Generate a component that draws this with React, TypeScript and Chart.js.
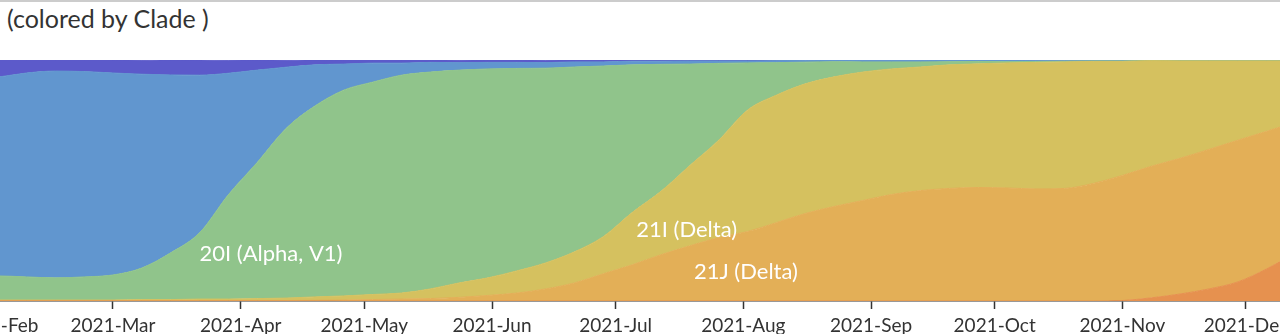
import React, { useEffect, useRef } from "react";
import { Chart, registerables } from "chart.js";

Chart.register(...registerables);

// Weekly pivots (frequency estimates, percent)
const weeks = [
  "2021-01-18", "2021-01-25", "2021-02-01", "2021-02-08", "2021-02-15", "2021-02-22",
  "2021-03-01", "2021-03-08", "2021-03-15", "2021-03-22", "2021-03-29", "2021-04-05",
  "2021-04-12", "2021-04-19", "2021-04-26", "2021-05-03", "2021-05-10", "2021-05-17",
  "2021-05-24", "2021-05-31", "2021-06-07", "2021-06-14", "2021-06-21", "2021-06-28",
  "2021-07-05", "2021-07-12", "2021-07-19", "2021-07-26", "2021-08-02", "2021-08-09",
  "2021-08-16", "2021-08-23", "2021-08-30", "2021-09-06", "2021-09-13", "2021-09-20",
  "2021-09-27", "2021-10-04", "2021-10-11", "2021-10-18", "2021-10-25", "2021-11-01",
  "2021-11-08", "2021-11-15", "2021-11-22", "2021-11-29", "2021-12-06", "2021-12-13",
  "2021-12-20",
];

const clade21K = [
  0, 0, 0, 0, 0, 0, 0, 0, 0, 0, 0, 0, 0, 0, 0, 0, 0, 0, 0, 0, 0, 0, 0, 0, 0, 0, 0, 0, 0, 0,
  0, 0, 0, 0, 0, 0, 0, 0, 0, 0, 0, 0.2, 1.3, 2.9, 5.0, 7.9, 13.3, 20.0, 27.1,
];

const clade21J = [
  0.2, 0.2, 0.2, 0.2, 0.2, 0.2, 0.2, 0.2, 0.2, 0.2, 0.2, 0.2, 0.2, 0.3, 0.4, 0.6, 0.8, 1.0,
  1.5, 2.3, 3.3, 5.0, 7.5, 11.3, 15.0, 19.2, 22.9, 26.3, 28.8, 32.5, 36.3, 39.2, 41.7, 44.2,
  45.8, 46.7, 47.1, 46.9, 46.5, 46.7, 48.8, 51.9, 54.6, 56.3, 57.9, 58.8, 57.1, 54.2, 50.8,
];

const clade21I = [
  0.2, 0.2, 0.2, 0.2, 0.2, 0.2, 0.2, 0.4, 0.4, 0.6, 0.6, 0.8, 1.0, 1.4, 1.7, 2.1, 2.5, 4.0,
  6.0, 7.3, 9.2, 10.8, 12.9, 15.4, 21.7, 26.3, 33.3, 40.4, 50.4, 52.9, 53.8, 53.8, 53.3, 52.1,
  51.3, 51.3, 51.3, 51.9, 52.5, 52.5, 50.6, 47.3, 43.8, 40.4, 36.7, 32.9, 29.2, 25.4, 21.7,
];

const clade20I = [
  10.4, 10.0, 10.0, 9.6, 9.2, 9.6, 10.4, 13.1, 19.4, 27.5, 43.3, 56.5, 70.4, 79.2, 85.4, 88.1,
  90.4, 90.0, 88.3, 86.7, 84.0, 80.8, 76.7, 70.8, 61.3, 52.7, 42.1, 31.9, 19.6, 13.5, 9.0, 6.3,
  4.2, 2.9, 2.1, 1.3, 1.0, 0.5, 0.4, 0.3, 0.2, 0.2, 0.1, 0.1, 0.1, 0.1, 0.1, 0.1, 0.1,
];

const cladeBlue = [
  80.8, 81.7, 82.5, 84.6, 85.8, 85.2, 83.8, 80.4, 73.8, 65.4, 50.4, 38.3, 25.4, 17.1, 10.8, 7.9,
  5.0, 4.0, 3.1, 2.7, 2.5, 2.3, 2.1, 1.7, 1.5, 1.3, 1.3, 1.0, 0.8, 0.8, 0.8, 0.7, 0.7, 0.7, 0.7,
  0.7, 0.6, 0.7, 0.5, 0.4, 0.3, 0.3, 0.2, 0.2, 0.2, 0.2, 0.2, 0.2, 0.2,
];

const cladePurple = [
  8.3, 7.9, 7.1, 5.4, 4.6, 4.8, 5.4, 5.8, 6.3, 6.3, 5.4, 4.2, 2.9, 2.1, 1.7, 1.3, 1.3, 1.0, 1.0,
  1.0, 1.0, 1.0, 0.8, 0.8, 0.6, 0.6, 0.4, 0.4, 0.4, 0.2, 0.2, 0.1, 0.1, 0.1, 0.1, 0.1, 0.1, 0.1,
  0.1, 0.1, 0.1, 0.1, 0.1, 0.1, 0.1, 0.1, 0.1, 0.1, 0.1,
];

const seriesNames = ["21K", "21J (Delta)", "21I (Delta)", "20I (Alpha, V1)", "other-blue", "other-purple"];
const seriesColors = ["#E6914F", "#E3AF57", "#D5C15F", "#90C48B", "#6196CF", "#5C5ACA"];

const monthTicks = [
  "2021-02-01", "2021-03-01", "2021-04-01", "2021-05-01", "2021-06-01", "2021-07-01",
  "2021-08-01", "2021-09-01", "2021-10-01", "2021-11-01", "2021-12-01",
];
const monthLabels = [
  "2021-Feb", "2021-Mar", "2021-Apr", "2021-May", "2021-Jun", "2021-Jul",
  "2021-Aug", "2021-Sep", "2021-Oct", "2021-Nov", "2021-Dec",
];

// in-stream labels (anchored in data coordinates)
const cladeLabelTexts = ["20I (Alpha, V1)", "21I (Delta)", "21J (Delta)"];
const cladeLabelDates = ["2021-03-22", "2021-07-06", "2021-07-20"];
const cladeLabelValues = [19.6, 29.6, 12.1];

const dayNum = (s: string) => Date.parse(s + "T00:00:00Z") / 86400000;

const X_MIN = dayNum("2021-03-01") - 51.7;
const X_MAX = dayNum("2021-03-01") + 295.4;

const labelPlugin = {
  id: "cladeLabels",
  afterDatasetsDraw(chart: any) {
    const { ctx, scales } = chart;
    ctx.save();
    ctx.fillStyle = "#ffffff";
    ctx.font = "22px Lato";
    ctx.textAlign = "left";
    ctx.textBaseline = "middle";
    cladeLabelTexts.forEach((t, i) => {
      ctx.fillText(
        t,
        scales.x.getPixelForValue(dayNum(cladeLabelDates[i])),
        scales.y.getPixelForValue(cladeLabelValues[i])
      );
    });
    ctx.restore();
  },
};

export default function App() {
  const canvasRef = useRef<HTMLCanvasElement | null>(null);

  useEffect(() => {
    if (!canvasRef.current) return;
    const series = [clade21K, clade21J, clade21I, clade20I, cladeBlue, cladePurple];
    const xs = weeks.map(dayNum);
    const chart = new Chart(canvasRef.current, {
      type: "line",
      data: {
        datasets: series.map((vals, i) => ({
          label: seriesNames[i],
          data: vals.map((v, j) => ({ x: xs[j], y: v })),
          backgroundColor: seriesColors[i],
          borderColor: seriesColors[i],
          borderWidth: 1,
          pointRadius: 0,
          fill: i === 0 ? "origin" : "-1",
          cubicInterpolationMode: "monotone" as const,
        })),
      },
      options: {
        animation: false,
        responsive: false,
        maintainAspectRatio: false,
        layout: { padding: { top: 60, left: 0, right: 0, bottom: 0 } },
        plugins: {
          legend: { display: false },
          tooltip: { enabled: false },
          title: { display: false },
        },
        scales: {
          x: {
            type: "linear",
            min: X_MIN,
            max: X_MAX,
            afterBuildTicks: (scale: any) => {
              scale.ticks = monthTicks.map((m) => ({ value: dayNum(m) }));
            },
            afterFit: (scale: any) => {
              scale.height = 33;
            },
            ticks: {
              autoSkip: false,
              maxRotation: 0,
              padding: 5,
              color: "#333333",
              font: { family: "Lato", size: 19 },
              callback: (value: any) => {
                const idx = monthTicks.findIndex((m) => Math.abs(dayNum(m) - Number(value)) < 0.5);
                return idx >= 0 ? monthLabels[idx] : "";
              },
            },
            grid: {
              display: true,
              drawOnChartArea: false,
              drawTicks: true,
              tickLength: 8,
              tickColor: "#333333",
              tickWidth: 1.5,
            },
            border: { display: true, color: "#333333", width: 1.5 },
          },
          y: {
            display: false,
            stacked: true,
            min: 0,
            max: 100,
          },
        },
      },
      plugins: [labelPlugin],
    });
    return () => chart.destroy();
  }, []);

  return (
    <div
      style={{
        position: "fixed",
        left: 0,
        top: 0,
        width: 1280,
        height: 334,
        overflow: "hidden",
        background: "#ffffff",
      }}
    >
      <div
        style={{
          position: "absolute",
          left: 0,
          top: 0,
          width: 1280,
          height: 2,
          background: "#cccccc",
        }}
      />
      <div
        style={{
          position: "absolute",
          left: 7,
          top: 3,
          fontFamily: "Lato",
          fontSize: 25,
          lineHeight: "normal",
          color: "#333333",
          whiteSpace: "nowrap",
        }}
      >
        (colored by Clade )
      </div>
      <canvas
        ref={canvasRef}
        width={1430}
        height={334}
        style={{ position: "absolute", left: -100, top: 0, width: 1430, height: 334 }}
      />
    </div>
  );
}
